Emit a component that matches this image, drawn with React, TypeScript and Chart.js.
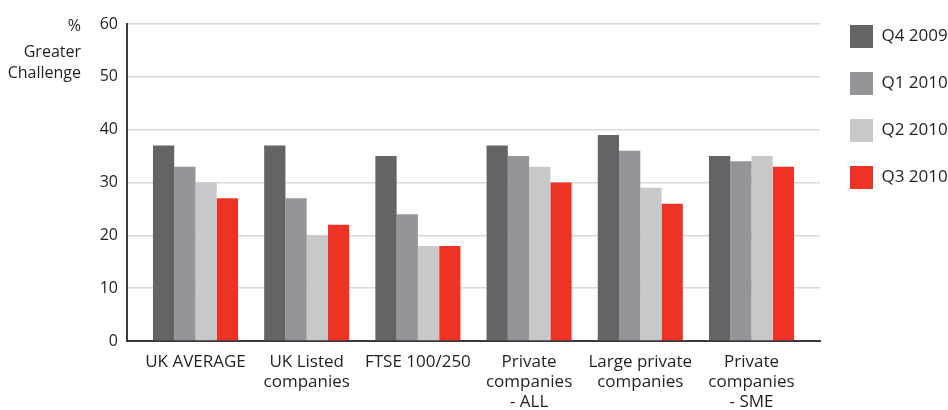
import { useEffect, useRef } from "react";
import { Chart, registerables } from "chart.js";

Chart.register(...registerables);

const categories: (string | string[])[] = [
  "UK AVERAGE",
  ["UK Listed", "companies"],
  "FTSE 100/250",
  ["Private", "companies", "- ALL"],
  ["Large private", "companies"],
  ["Private", "companies", "- SME"],
];
const seriesNames = ["Q4 2009", "Q1 2010", "Q2 2010", "Q3 2010"];
const q4_2009 = [37, 37, 35, 37, 39, 35];
const q1_2010 = [33, 27, 24, 35, 36, 34];
const q2_2010 = [30, 20, 18, 33, 29, 35];
const q3_2010 = [27, 22, 18, 30, 26, 33];
const seriesValues = [q4_2009, q1_2010, q2_2010, q3_2010];
const seriesColors = ["#636466", "#939598", "#c7c8ca", "#ee3224"];
const yTitleLines = ["%", "Greater", "Challenge"];

const FONT = '"Open Sans", "Noto Sans", sans-serif';
const TEXT = "#231f20";

const yTitlePlugin = {
  id: "yTitle",
  afterDraw(chart: any) {
    const ctx = chart.ctx;
    ctx.save();
    ctx.font = `16px ${FONT}`;
    ctx.fillStyle = TEXT;
    ctx.textAlign = "right";
    ctx.textBaseline = "alphabetic";
    const x = chart.chartArea.left - 46;
    const baselines = [31, 57, 78];
    yTitleLines.forEach((t, i) => ctx.fillText(t, x, baselines[i]));
    ctx.restore();
  },
};

export default function App() {
  const ref = useRef<HTMLCanvasElement | null>(null);
  useEffect(() => {
    if (!ref.current) return;
    const chart = new Chart(ref.current, {
      type: "bar",
      data: {
        datasets: seriesNames.map((name, si) => ({
          label: name,
          data: seriesValues[si].map((v, i) => ({ x: i, y: v })),
          backgroundColor: seriesColors[si],
          borderWidth: 0,
          barPercentage: 1,
          categoryPercentage: 0.765,
        })),
      },
      options: {
        animation: false,
        responsive: true,
        maintainAspectRatio: false,
        layout: { padding: { top: 1, left: 0, right: 0, bottom: 0 } },
        scales: {
          x: {
            type: "linear",
            min: -0.616,
            max: 5.616,
            offset: false,
            z: 1,
            grid: { display: false, drawTicks: false },
            border: { display: true, color: "#3a3a3c", width: 2 },
            ticks: {
              stepSize: 1,
              includeBounds: false,
              autoSkip: false,
              maxRotation: 0,
              padding: 11,
              color: TEXT,
              font: { family: FONT, size: 17, lineHeight: 1.18 },
              callback: (v: any) => categories[v as number] ?? "",
            } as any,
            afterFit: (s: any) => {
              s.height = 69;
            },
          },
          y: {
            type: "linear",
            position: "left",
            min: 0,
            max: 60,
            grid: { color: "#d9d9d9", lineWidth: 1.5, drawTicks: false },
            border: { display: true, color: "#3a3a3c", width: 2 },
            ticks: {
              stepSize: 10,
              padding: 9,
              color: TEXT,
              font: { family: FONT, size: 16 },
            },
            afterFit: (s: any) => {
              s.width = 127;
              s.paddingTop = 24;
            },
          },
          spacer: {
            type: "linear",
            position: "right",
            display: true,
            grid: { display: false },
            border: { display: false },
            ticks: { display: false },
            afterFit: (s: any) => {
              s.width = 6;
            },
          },
        },
        plugins: {
          legend: {
            display: true,
            position: "right",
            align: "start",
            maxWidth: 122,
            labels: {
              boxWidth: 23,
              boxHeight: 23,
              padding: 24,
              color: TEXT,
              font: { family: FONT, size: 17 },
            },
          } as any,
          tooltip: { enabled: false },
        },
      },
      plugins: [yTitlePlugin],
    });
    return () => chart.destroy();
  }, []);
  return (
    <div style={{ position: "absolute", left: 0, top: 0, width: 948, height: 410 }}>
      <canvas ref={ref} />
    </div>
  );
}
